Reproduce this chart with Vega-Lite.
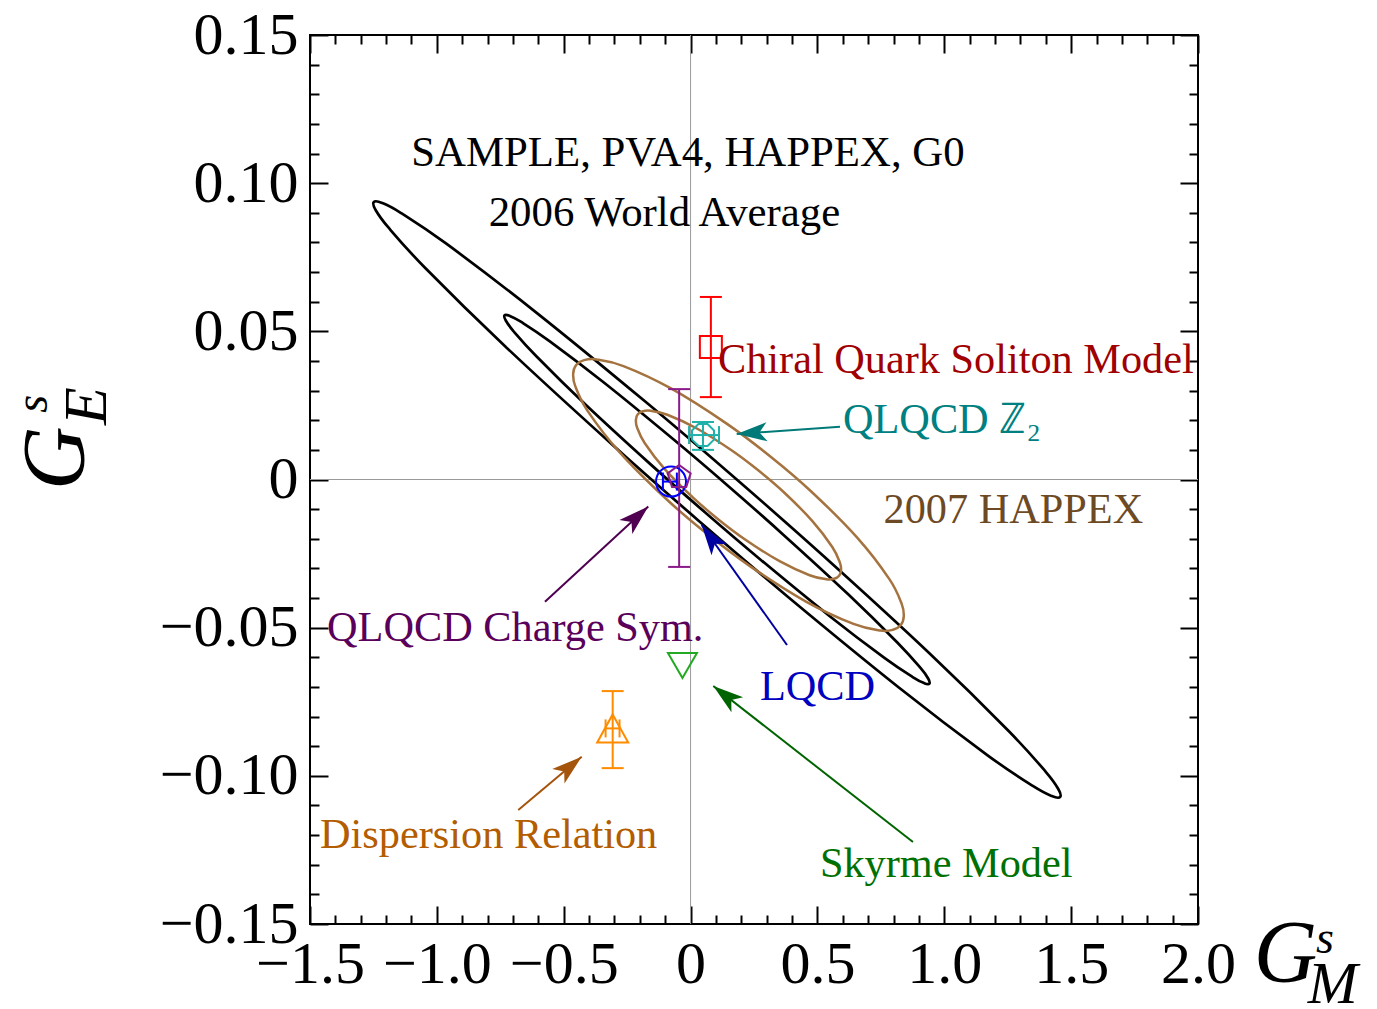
{
  "$schema": "https://vega.github.io/schema/vega-lite/v6.json",
  "width": 888,
  "height": 889,
  "autosize": {"type": "none"},
  "padding": {"left": 310, "top": 35, "right": 179, "bottom": 85},
  "background": "white",
  "config": {"view": {"stroke": "black", "strokeWidth": 2}, "font": "Liberation Serif"},
  "datasets": {
    "ell": [
      {"e":"wo","g":"wa","i":0,"x":1.4568,"y":-0.10712},
      {"e":"wo","g":"wa","i":1,"x":1.4237,"y":-0.10684},
      {"e":"wo","g":"wa","i":2,"x":1.3505,"y":-0.10351},
      {"e":"wo","g":"wa","i":3,"x":1.1707,"y":-0.09307},
      {"e":"wo","g":"wa","i":4,"x":0.8208,"y":-0.07017},
      {"e":"wo","g":"wa","i":5,"x":0.3843,"y":-0.03963},
      {"e":"wo","g":"wa","i":6,"x":0.0317,"y":-0.01390},
      {"e":"wo","g":"wa","i":7,"x":-0.3159,"y":0.01233},
      {"e":"wo","g":"wa","i":8,"x":-0.7312,"y":0.04497},
      {"e":"wo","g":"wa","i":9,"x":-1.0457,"y":0.07137},
      {"e":"wo","g":"wa","i":10,"x":-1.1919,"y":0.08513},
      {"e":"wo","g":"wa","i":11,"x":-1.2408,"y":0.09086},
      {"e":"wo","g":"wa","i":12,"x":-1.2488,"y":0.09362},
      {"e":"wo","g":"wa","i":13,"x":-1.2157,"y":0.09334},
      {"e":"wo","g":"wa","i":14,"x":-1.1425,"y":0.09001},
      {"e":"wo","g":"wa","i":15,"x":-0.9627,"y":0.07957},
      {"e":"wo","g":"wa","i":16,"x":-0.6128,"y":0.05667},
      {"e":"wo","g":"wa","i":17,"x":-0.1763,"y":0.02613},
      {"e":"wo","g":"wa","i":18,"x":0.1763,"y":0.00040},
      {"e":"wo","g":"wa","i":19,"x":0.5239,"y":-0.02583},
      {"e":"wo","g":"wa","i":20,"x":0.9392,"y":-0.05847},
      {"e":"wo","g":"wa","i":21,"x":1.2537,"y":-0.08487},
      {"e":"wo","g":"wa","i":22,"x":1.3999,"y":-0.09863},
      {"e":"wo","g":"wa","i":23,"x":1.4488,"y":-0.10436},
      {"e":"wi","g":"wa","i":0,"x":0.9413,"y":-0.06888},
      {"e":"wi","g":"wa","i":1,"x":0.9208,"y":-0.06872},
      {"e":"wi","g":"wa","i":2,"x":0.8754,"y":-0.06666},
      {"e":"wi","g":"wa","i":3,"x":0.7640,"y":-0.06021},
      {"e":"wi","g":"wa","i":4,"x":0.5473,"y":-0.04605},
      {"e":"wi","g":"wa","i":5,"x":0.2771,"y":-0.02714},
      {"e":"wi","g":"wa","i":6,"x":0.0588,"y":-0.01122},
      {"e":"wi","g":"wa","i":7,"x":-0.1563,"y":0.00502},
      {"e":"wi","g":"wa","i":8,"x":-0.4133,"y":0.02523},
      {"e":"wi","g":"wa","i":9,"x":-0.6078,"y":0.04159},
      {"e":"wi","g":"wa","i":10,"x":-0.6983,"y":0.05010},
      {"e":"wi","g":"wa","i":11,"x":-0.7284,"y":0.05366},
      {"e":"wi","g":"wa","i":12,"x":-0.7333,"y":0.05538},
      {"e":"wi","g":"wa","i":13,"x":-0.7128,"y":0.05522},
      {"e":"wi","g":"wa","i":14,"x":-0.6674,"y":0.05316},
      {"e":"wi","g":"wa","i":15,"x":-0.5560,"y":0.04671},
      {"e":"wi","g":"wa","i":16,"x":-0.3393,"y":0.03255},
      {"e":"wi","g":"wa","i":17,"x":-0.0691,"y":0.01364},
      {"e":"wi","g":"wa","i":18,"x":0.1492,"y":-0.00228},
      {"e":"wi","g":"wa","i":19,"x":0.3643,"y":-0.01852},
      {"e":"wi","g":"wa","i":20,"x":0.6213,"y":-0.03873},
      {"e":"wi","g":"wa","i":21,"x":0.8158,"y":-0.05509},
      {"e":"wi","g":"wa","i":22,"x":0.9063,"y":-0.06360},
      {"e":"wi","g":"wa","i":23,"x":0.9364,"y":-0.06716},
      {"e":"ho","g":"hx","i":0,"x":0.8286,"y":-0.04911},
      {"e":"ho","g":"hx","i":1,"x":0.7975,"y":-0.05073},
      {"e":"ho","g":"hx","i":2,"x":0.7479,"y":-0.05096},
      {"e":"ho","g":"hx","i":3,"x":0.6422,"y":-0.04873},
      {"e":"ho","g":"hx","i":4,"x":0.4549,"y":-0.04119},
      {"e":"ho","g":"hx","i":5,"x":0.2354,"y":-0.02931},
      {"e":"ho","g":"hx","i":6,"x":0.0656,"y":-0.01840},
      {"e":"ho","g":"hx","i":7,"x":-0.0958,"y":-0.00659},
      {"e":"ho","g":"hx","i":8,"x":-0.2791,"y":0.00915},
      {"e":"ho","g":"hx","i":9,"x":-0.4060,"y":0.02317},
      {"e":"ho","g":"hx","i":10,"x":-0.4545,"y":0.03150},
      {"e":"ho","g":"hx","i":11,"x":-0.4627,"y":0.03569},
      {"e":"ho","g":"hx","i":12,"x":-0.4510,"y":0.03865},
      {"e":"ho","g":"hx","i":13,"x":-0.4199,"y":0.04027},
      {"e":"ho","g":"hx","i":14,"x":-0.3703,"y":0.04050},
      {"e":"ho","g":"hx","i":15,"x":-0.2646,"y":0.03827},
      {"e":"ho","g":"hx","i":16,"x":-0.0773,"y":0.03073},
      {"e":"ho","g":"hx","i":17,"x":0.1422,"y":0.01885},
      {"e":"ho","g":"hx","i":18,"x":0.3120,"y":0.00794},
      {"e":"ho","g":"hx","i":19,"x":0.4734,"y":-0.00387},
      {"e":"ho","g":"hx","i":20,"x":0.6567,"y":-0.01961},
      {"e":"ho","g":"hx","i":21,"x":0.7836,"y":-0.03363},
      {"e":"ho","g":"hx","i":22,"x":0.8321,"y":-0.04196},
      {"e":"ho","g":"hx","i":23,"x":0.8403,"y":-0.04615},
      {"e":"hi","g":"hx","i":0,"x":0.5856,"y":-0.03245},
      {"e":"hi","g":"hx","i":1,"x":0.5661,"y":-0.03348},
      {"e":"hi","g":"hx","i":2,"x":0.5351,"y":-0.03366},
      {"e":"hi","g":"hx","i":3,"x":0.4692,"y":-0.03230},
      {"e":"hi","g":"hx","i":4,"x":0.3526,"y":-0.02766},
      {"e":"hi","g":"hx","i":5,"x":0.2163,"y":-0.02031},
      {"e":"hi","g":"hx","i":6,"x":0.1109,"y":-0.01355},
      {"e":"hi","g":"hx","i":7,"x":0.0109,"y":-0.00623},
      {"e":"hi","g":"hx","i":8,"x":-0.1026,"y":0.00356},
      {"e":"hi","g":"hx","i":9,"x":-0.1810,"y":0.01230},
      {"e":"hi","g":"hx","i":10,"x":-0.2107,"y":0.01750},
      {"e":"hi","g":"hx","i":11,"x":-0.2155,"y":0.02014},
      {"e":"hi","g":"hx","i":12,"x":-0.2080,"y":0.02199},
      {"e":"hi","g":"hx","i":13,"x":-0.1885,"y":0.02302},
      {"e":"hi","g":"hx","i":14,"x":-0.1575,"y":0.02320},
      {"e":"hi","g":"hx","i":15,"x":-0.0916,"y":0.02184},
      {"e":"hi","g":"hx","i":16,"x":0.0250,"y":0.01720},
      {"e":"hi","g":"hx","i":17,"x":0.1613,"y":0.00985},
      {"e":"hi","g":"hx","i":18,"x":0.2667,"y":0.00309},
      {"e":"hi","g":"hx","i":19,"x":0.3667,"y":-0.00423},
      {"e":"hi","g":"hx","i":20,"x":0.4802,"y":-0.01402},
      {"e":"hi","g":"hx","i":21,"x":0.5586,"y":-0.02276},
      {"e":"hi","g":"hx","i":22,"x":0.5883,"y":-0.02796},
      {"e":"hi","g":"hx","i":23,"x":0.5931,"y":-0.03060}
    ],
    "pts": [
      {"name":"chiral","x":0.080,"y":0.0447,"ylo":0.0278,"yhi":0.0616},
      {"name":"z2","x":0.049,"y":0.0150,"xlo":-0.006,"xhi":0.112,"ylo":0.0100,"yhi":0.0194},
      {"name":"lqcd","x":-0.077,"y":-0.0007,"xlo":-0.109,"xhi":-0.054},
      {"name":"csym","x":-0.045,"y":0.0008,"ylo":-0.0295,"yhi":0.0305},
      {"name":"skyrme","x":-0.032,"y":-0.0628},
      {"name":"disp","x":-0.307,"y":-0.0840,"xlo":-0.335,"xhi":-0.280,"ylo":-0.0974,"yhi":-0.0714}
    ],
    "arrows": [
      {"name":"z2","x":0.5889,"y":0.01782,"x2":0.1817,"y2":0.01536,"angle":266.0},
      {"name":"csym","x":-0.5739,"y":-0.04124,"x2":-0.1667,"y2":-0.00911,"angle":47.4},
      {"name":"lqcd","x":0.3800,"y":-0.05586,"x2":0.0437,"y2":-0.01536,"angle":324.6},
      {"name":"skyrme","x":0.8766,"y":-0.12234,"x2":0.0895,"y2":-0.06969,"angle":308.0},
      {"name":"disp","x":-0.6791,"y":-0.11154,"x2":-0.4292,"y2":-0.09355,"angle":49.9}
    ],
    "labels": [
      {"name":"chiral","text":"Chiral Quark Soliton Model","x":0.108,"y":0.0403},
      {"name":"z2","text":"QLQCD ℤ₂","x":0.6007,"y":0.0201},
      {"name":"happex","text":"2007 HAPPEX","x":0.7606,"y":-0.0103},
      {"name":"csym","text":"QLQCD Charge Sym.","x":-1.4327,"y":-0.0501},
      {"name":"lqcd","text":"LQCD","x":0.2735,"y":-0.0700},
      {"name":"disp","text":"Dispersion Relation","x":-1.4603,"y":-0.1200},
      {"name":"skyrme","text":"Skyrme Model","x":0.5099,"y":-0.1298}
    ],
    "titles": [
      {"text":"SAMPLE, PVA4, HAPPEX, G0","x":-0.0103,"y":0.1102},
      {"text":"2006 World Average","x":-0.1029,"y":0.0899}
    ],
    "xtitle": [
      {"t":"G","k":"big","x":2.2200,"y":-0.1605},
      {"t":"s","k":"sup","x":2.4650,"y":-0.1550},
      {"t":"M","k":"sub","x":2.4330,"y":-0.1705}
    ],
    "ytitle": [
      {"t":"G","k":"big","x":-2.4974,"y":-0.00354},
      {"t":"s","k":"sup","x":-2.5900,"y":0.0225},
      {"t":"E","k":"sub","x":-2.3792,"y":0.0184}
    ],
    "zero": [{"v":0}]
  },
  "resolve": {
    "axis": {"x": "independent", "y": "independent"},
    "scale": {"color": "independent", "shape": "independent", "strokeWidth": "independent"}
  },
  "layer": [
    {
      "data": {"name": "zero"},
      "mark": {"type": "rule", "color": "#999999", "strokeWidth": 1},
      "encoding": {"x": {"field": "v", "type": "quantitative", "scale": {"domain": [-1.5, 2], "nice": false, "zero": false}, "axis": null}}
    },
    {
      "data": {"name": "zero"},
      "mark": {"type": "rule", "color": "#999999", "strokeWidth": 1},
      "encoding": {"y": {"field": "v", "type": "quantitative", "scale": {"domain": [-0.15, 0.15], "nice": false, "zero": false}, "axis": null}}
    },
    {
      "data": {"name": "ell"},
      "mark": {"type": "line", "interpolate": "cardinal-closed"},
      "encoding": {
        "x": {"field": "x", "type": "quantitative", "scale": {"domain": [-1.5, 2], "nice": false, "zero": false},
          "axis": {"orient": "bottom", "values": [-1.5, -1, -0.5, 0, 0.5, 1, 1.5, 2], "ticks": false, "domain": false, "grid": false, "labelFontSize": 60, "labelFont": "Liberation Serif", "labelColor": "black", "labelPadding": 11, "labelFlush": false, "labelOverlap": false, "labelExpr": "datum.value == 0 ? '0' : replace(format(datum.value, '.1f'), '-', '\u2212')", "title": null}},
        "y": {"field": "y", "type": "quantitative", "scale": {"domain": [-0.15, 0.15], "nice": false, "zero": false},
          "axis": {"orient": "left", "values": [-0.15, -0.1, -0.05, 0, 0.05, 0.1, 0.15], "ticks": false, "domain": false, "grid": false, "labelFontSize": 60, "labelFont": "Liberation Serif", "labelColor": "black", "labelPadding": 12, "labelFlush": false, "labelOverlap": false, "labelExpr": "datum.value == 0 ? '0' : replace(format(datum.value, '.2f'), '-', '\u2212')", "title": null}},
        "detail": {"field": "e", "type": "nominal"},
        "order": {"field": "i", "type": "quantitative"},
        "color": {"field": "g", "type": "nominal", "scale": {"domain": ["wa", "hx"], "range": ["#000000", "#a4733f"]}, "legend": null},
        "strokeWidth": {"field": "g", "type": "nominal", "scale": {"type": "ordinal", "domain": ["wa", "hx"], "range": [2.7, 2.5]}, "legend": null}
      }
    },
    {
      "data": {"name": "pts"},
      "transform": [{"filter": "isValid(datum.ylo)"}],
      "mark": {"type": "rule", "strokeWidth": 2},
      "encoding": {
        "x": {"field": "x", "type": "quantitative", "scale": {"domain": [-1.5, 2], "nice": false, "zero": false},
          "axis": {"orient": "bottom", "values": [-1.5, -1, -0.5, 0, 0.5, 1, 1.5, 2], "labels": false, "domain": false, "grid": false, "tickSize": -18, "tickWidth": 2, "tickColor": "black", "title": null}},
        "y": {"field": "ylo", "type": "quantitative", "scale": {"domain": [-0.15, 0.15], "nice": false, "zero": false},
          "axis": {"orient": "left", "values": [-0.15, -0.1, -0.05, 0, 0.05, 0.1, 0.15], "labels": false, "domain": false, "grid": false, "tickSize": -18, "tickWidth": 2, "tickColor": "black", "title": null}},
        "y2": {"field": "yhi"},
        "color": {"field": "name", "type": "nominal", "scale": {"domain": ["chiral", "z2", "lqcd", "csym", "skyrme", "disp"], "range": ["#ff0000", "#20b2aa", "#0000ff", "#8b1a8b", "#22aa22", "#ff8c00"]}, "legend": null}
      }
    },
    {
      "data": {"name": "pts"},
      "transform": [{"fold": ["ylo", "yhi"], "as": ["k", "v"]}, {"filter": "isValid(datum.v)"}],
      "mark": {"type": "point", "shape": "M-1,0L1,0", "size": 484, "strokeWidth": 2, "filled": false, "opacity": 1},
      "encoding": {
        "x": {"field": "x", "type": "quantitative", "scale": {"domain": [-1.5, 2], "nice": false, "zero": false},
          "axis": {"orient": "bottom", "values": [-1.4, -1.3, -1.2, -1.1, -0.9, -0.8, -0.7, -0.6, -0.4, -0.3, -0.2, -0.1, 0.1, 0.2, 0.3, 0.4, 0.6, 0.7, 0.8, 0.9, 1.1, 1.2, 1.3, 1.4, 1.6, 1.7, 1.8, 1.9], "labels": false, "domain": false, "grid": false, "tickSize": -9, "tickWidth": 2, "tickColor": "black", "title": null}},
        "y": {"field": "v", "type": "quantitative", "scale": {"domain": [-0.15, 0.15], "nice": false, "zero": false},
          "axis": {"orient": "left", "values": [-0.14, -0.13, -0.12, -0.11, -0.09, -0.08, -0.07, -0.06, -0.04, -0.03, -0.02, -0.01, 0.01, 0.02, 0.03, 0.04, 0.06, 0.07, 0.08, 0.09, 0.11, 0.12, 0.13, 0.14], "labels": false, "domain": false, "grid": false, "tickSize": -9, "tickWidth": 2, "tickColor": "black", "title": null}},
        "color": {"field": "name", "type": "nominal", "scale": {"domain": ["chiral", "z2", "lqcd", "csym", "skyrme", "disp"], "range": ["#ff0000", "#20b2aa", "#0000ff", "#8b1a8b", "#22aa22", "#ff8c00"]}, "legend": null}
      }
    },
    {
      "data": {"name": "pts"},
      "transform": [{"filter": "isValid(datum.xlo)"}],
      "mark": {"type": "rule", "strokeWidth": 2},
      "encoding": {
        "x": {"field": "xlo", "type": "quantitative", "scale": {"domain": [-1.5, 2], "nice": false, "zero": false},
          "axis": {"orient": "top", "values": [-1.5, -1, -0.5, 0, 0.5, 1, 1.5, 2], "labels": false, "domain": false, "grid": false, "tickSize": -18, "tickWidth": 2, "tickColor": "black", "title": null}},
        "x2": {"field": "xhi"},
        "y": {"field": "y", "type": "quantitative", "scale": {"domain": [-0.15, 0.15], "nice": false, "zero": false},
          "axis": {"orient": "right", "values": [-0.15, -0.1, -0.05, 0, 0.05, 0.1, 0.15], "labels": false, "domain": false, "grid": false, "tickSize": -18, "tickWidth": 2, "tickColor": "black", "title": null}},
        "color": {"field": "name", "type": "nominal", "scale": {"domain": ["chiral", "z2", "lqcd", "csym", "skyrme", "disp"], "range": ["#ff0000", "#20b2aa", "#0000ff", "#8b1a8b", "#22aa22", "#ff8c00"]}, "legend": null}
      }
    },
    {
      "data": {"name": "pts"},
      "transform": [{"fold": ["xlo", "xhi"], "as": ["k", "v"]}, {"filter": "isValid(datum.v)"}],
      "mark": {"type": "point", "shape": "M0,-1L0,1", "size": 324, "strokeWidth": 2, "filled": false, "opacity": 1},
      "encoding": {
        "x": {"field": "v", "type": "quantitative", "scale": {"domain": [-1.5, 2], "nice": false, "zero": false},
          "axis": {"orient": "top", "values": [-1.4, -1.3, -1.2, -1.1, -0.9, -0.8, -0.7, -0.6, -0.4, -0.3, -0.2, -0.1, 0.1, 0.2, 0.3, 0.4, 0.6, 0.7, 0.8, 0.9, 1.1, 1.2, 1.3, 1.4, 1.6, 1.7, 1.8, 1.9], "labels": false, "domain": false, "grid": false, "tickSize": -9, "tickWidth": 2, "tickColor": "black", "title": null}},
        "y": {"field": "y", "type": "quantitative", "scale": {"domain": [-0.15, 0.15], "nice": false, "zero": false},
          "axis": {"orient": "right", "values": [-0.14, -0.13, -0.12, -0.11, -0.09, -0.08, -0.07, -0.06, -0.04, -0.03, -0.02, -0.01, 0.01, 0.02, 0.03, 0.04, 0.06, 0.07, 0.08, 0.09, 0.11, 0.12, 0.13, 0.14], "labels": false, "domain": false, "grid": false, "tickSize": -9, "tickWidth": 2, "tickColor": "black", "title": null}},
        "color": {"field": "name", "type": "nominal", "scale": {"domain": ["chiral", "z2", "lqcd", "csym", "skyrme", "disp"], "range": ["#ff0000", "#20b2aa", "#0000ff", "#8b1a8b", "#22aa22", "#ff8c00"]}, "legend": null}
      }
    },
    {
      "data": {"name": "pts"},
      "mark": {"type": "point", "size": 400, "strokeWidth": 2, "filled": false, "opacity": 1},
      "encoding": {
        "x": {"field": "x", "type": "quantitative", "scale": {"domain": [-1.5, 2], "nice": false, "zero": false}, "axis": null},
        "y": {"field": "y", "type": "quantitative", "scale": {"domain": [-0.15, 0.15], "nice": false, "zero": false}, "axis": null},
        "shape": {"field": "name", "type": "nominal", "scale": {"domain": ["chiral", "z2", "lqcd", "csym", "skyrme", "disp"], "range": [
          "M-1.1,-1.1L1.1,-1.1L1.1,1.1L-1.1,1.1Z",
          "M-0.456,-1.1L0.456,-1.1L1.1,-0.456L1.1,0.456L0.456,1.1L-0.456,1.1L-1.1,0.456L-1.1,-0.456Z",
          "M1.5,0A1.5,1.5,0,1,1,-1.5,0A1.5,1.5,0,1,1,1.5,0Z",
          "M0,-1.21L1.151,-0.374L0.711,0.979L-0.711,0.979L-1.151,-0.374Z",
          "M-1.45,-1.25L1.45,-1.25L0,1.25Z",
          "M0,-1.4L1.55,1.4L-1.55,1.4Z"]}, "legend": null},
        "color": {"field": "name", "type": "nominal", "scale": {"domain": ["chiral", "z2", "lqcd", "csym", "skyrme", "disp"], "range": ["#ff0000", "#20b2aa", "#0000ff", "#8b1a8b", "#22aa22", "#ff8c00"]}, "legend": null}
      }
    },
    {
      "data": {"name": "arrows"},
      "mark": {"type": "rule", "strokeWidth": 2},
      "encoding": {
        "x": {"field": "x", "type": "quantitative", "scale": {"domain": [-1.5, 2], "nice": false, "zero": false}, "axis": null},
        "y": {"field": "y", "type": "quantitative", "scale": {"domain": [-0.15, 0.15], "nice": false, "zero": false}, "axis": null},
        "x2": {"field": "x2"},
        "y2": {"field": "y2"},
        "color": {"field": "name", "type": "nominal", "scale": {"domain": ["z2", "csym", "lqcd", "skyrme", "disp"], "range": ["#007a78", "#4f0050", "#0000a0", "#006400", "#a5540c"]}, "legend": null}
      }
    },
    {
      "data": {"name": "arrows"},
      "mark": {"type": "point", "shape": "M0,0L0.5,1.6L0,1.2L-0.5,1.6Z", "size": 1450, "filled": true, "opacity": 1, "strokeWidth": 0},
      "encoding": {
        "x": {"field": "x2", "type": "quantitative", "scale": {"domain": [-1.5, 2], "nice": false, "zero": false}, "axis": null},
        "y": {"field": "y2", "type": "quantitative", "scale": {"domain": [-0.15, 0.15], "nice": false, "zero": false}, "axis": null},
        "angle": {"field": "angle", "type": "quantitative", "scale": null},
        "color": {"field": "name", "type": "nominal", "scale": {"domain": ["z2", "csym", "lqcd", "skyrme", "disp"], "range": ["#007a78", "#4f0050", "#0000a0", "#006400", "#a5540c"]}, "legend": null}
      }
    },
    {
      "data": {"name": "labels"},
      "mark": {"type": "text", "align": "left", "baseline": "middle", "fontSize": 42.3, "font": "Liberation Serif"},
      "encoding": {
        "x": {"field": "x", "type": "quantitative", "scale": {"domain": [-1.5, 2], "nice": false, "zero": false}, "axis": null},
        "y": {"field": "y", "type": "quantitative", "scale": {"domain": [-0.15, 0.15], "nice": false, "zero": false}, "axis": null},
        "text": {"field": "text"},
        "color": {"field": "name", "type": "nominal", "scale": {"domain": ["chiral", "z2", "happex", "csym", "lqcd", "disp", "skyrme"], "range": ["#a00000", "#008080", "#6e4a24", "#5a005a", "#0000c0", "#b35c00", "#007000"]}, "legend": null}
      }
    },
    {
      "data": {"name": "titles"},
      "mark": {"type": "text", "align": "center", "baseline": "middle", "fontSize": 42.8, "font": "Liberation Serif", "color": "black"},
      "encoding": {
        "x": {"field": "x", "type": "quantitative", "scale": {"domain": [-1.5, 2], "nice": false, "zero": false}, "axis": null},
        "y": {"field": "y", "type": "quantitative", "scale": {"domain": [-0.15, 0.15], "nice": false, "zero": false}, "axis": null},
        "text": {"field": "text"}
      }
    },
    {
      "data": {"name": "xtitle"},
      "transform": [{"filter": "datum.k == 'big'"}],
      "mark": {"type": "text", "align": "left", "baseline": "middle", "font": "Liberation Serif", "fontStyle": "italic", "color": "black", "fontSize": 88},
      "encoding": {
        "x": {"field": "x", "type": "quantitative", "scale": {"domain": [-1.5, 2], "nice": false, "zero": false}, "axis": null},
        "y": {"field": "y", "type": "quantitative", "scale": {"domain": [-0.15, 0.15], "nice": false, "zero": false}, "axis": null},
        "text": {"field": "t"}
      }
    },
    {
      "data": {"name": "xtitle"},
      "transform": [{"filter": "datum.k == 'sup'"}],
      "mark": {"type": "text", "align": "left", "baseline": "middle", "font": "Liberation Serif", "fontStyle": "italic", "color": "black", "fontSize": 46},
      "encoding": {
        "x": {"field": "x", "type": "quantitative", "scale": {"domain": [-1.5, 2], "nice": false, "zero": false}, "axis": null},
        "y": {"field": "y", "type": "quantitative", "scale": {"domain": [-0.15, 0.15], "nice": false, "zero": false}, "axis": null},
        "text": {"field": "t"}
      }
    },
    {
      "data": {"name": "xtitle"},
      "transform": [{"filter": "datum.k == 'sub'"}],
      "mark": {"type": "text", "align": "left", "baseline": "middle", "font": "Liberation Serif", "fontStyle": "italic", "color": "black", "fontSize": 60},
      "encoding": {
        "x": {"field": "x", "type": "quantitative", "scale": {"domain": [-1.5, 2], "nice": false, "zero": false}, "axis": null},
        "y": {"field": "y", "type": "quantitative", "scale": {"domain": [-0.15, 0.15], "nice": false, "zero": false}, "axis": null},
        "text": {"field": "t"}
      }
    },
    {
      "data": {"name": "ytitle"},
      "transform": [{"filter": "datum.k == 'big'"}],
      "mark": {"type": "text", "align": "left", "baseline": "middle", "font": "Liberation Serif", "fontStyle": "italic", "color": "black", "fontSize": 88, "angle": 270},
      "encoding": {
        "x": {"field": "x", "type": "quantitative", "scale": {"domain": [-1.5, 2], "nice": false, "zero": false}, "axis": null},
        "y": {"field": "y", "type": "quantitative", "scale": {"domain": [-0.15, 0.15], "nice": false, "zero": false}, "axis": null},
        "text": {"field": "t"}
      }
    },
    {
      "data": {"name": "ytitle"},
      "transform": [{"filter": "datum.k == 'sup'"}],
      "mark": {"type": "text", "align": "left", "baseline": "middle", "font": "Liberation Serif", "fontStyle": "italic", "color": "black", "fontSize": 46, "angle": 270},
      "encoding": {
        "x": {"field": "x", "type": "quantitative", "scale": {"domain": [-1.5, 2], "nice": false, "zero": false}, "axis": null},
        "y": {"field": "y", "type": "quantitative", "scale": {"domain": [-0.15, 0.15], "nice": false, "zero": false}, "axis": null},
        "text": {"field": "t"}
      }
    },
    {
      "data": {"name": "ytitle"},
      "transform": [{"filter": "datum.k == 'sub'"}],
      "mark": {"type": "text", "align": "left", "baseline": "middle", "font": "Liberation Serif", "fontStyle": "italic", "color": "black", "fontSize": 62, "angle": 270},
      "encoding": {
        "x": {"field": "x", "type": "quantitative", "scale": {"domain": [-1.5, 2], "nice": false, "zero": false}, "axis": null},
        "y": {"field": "y", "type": "quantitative", "scale": {"domain": [-0.15, 0.15], "nice": false, "zero": false}, "axis": null},
        "text": {"field": "t"}
      }
    }
  ]
}
